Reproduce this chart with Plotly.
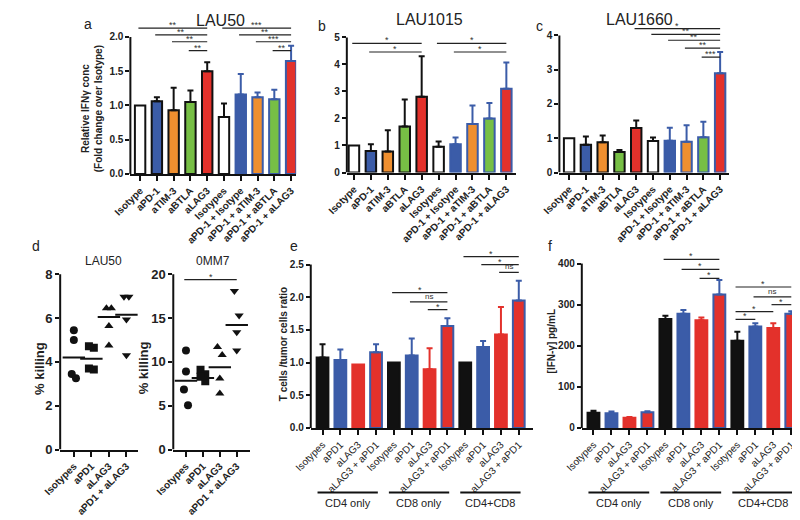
import plotly.graph_objects as go

W, H = 800, 520
FONT = "Liberation Sans, Arial, sans-serif"
BLUE = "#3b5ca8"; RED = "#e3312b"; ORANGE = "#ef8f2f"; GREEN = "#77bf45"
BLACK = "#111111"; WHITE = "#ffffff"

# ---------------- data ----------------
abc_labels = ["Isotype", "aPD-1", "aTIM-3", "aBTLA", "aLAG3", "Isotypes",
              "aPD-1 + Isotype", "aPD-1 + aTIM-3", "aPD-1 + aBTLA", "aPD-1 + aLAG3"]
a_mean = [1.0, 1.06, 0.93, 1.05, 1.5, 0.83, 1.16, 1.12, 1.09, 1.65]
a_err = [0, 0.06, 0.33, 0.17, 0.13, 0.2, 0.3, 0.07, 0.14, 0.22]
b_mean = [1.0, 0.8, 0.78, 1.7, 2.8, 0.95, 1.05, 1.8, 2.0, 3.1]
b_err = [0, 0.25, 0.78, 1.0, 1.5, 0.2, 0.25, 0.68, 0.57, 0.97]
c_mean = [1.0, 0.81, 0.88, 0.6, 1.3, 0.92, 0.93, 0.9, 1.03, 2.9]
c_err = [0, 0.24, 0.2, 0.06, 0.22, 0.1, 0.38, 0.48, 0.45, 0.62]

# significance: (from index, to index, level, label)
a_sig = [(0, 4, 2.13, "**"), (1, 4, 2.03, "**"), (2, 4, 1.93, "**"), (3, 4, 1.80, "**"),
         (5, 9, 2.13, "***"), (6, 9, 2.03, "**"), (7, 9, 1.93, "***"), (8, 9, 1.80, "**")]
b_sig = [(0, 4, 4.78, "*"), (1, 4, 4.46, "*"), (5, 9, 4.78, "*"), (6, 9, 4.46, "*")]
c_sig = [(4, 9, 4.2, "*"), (5, 9, 4.03, "**"), (6, 9, 3.86, "**"), (7, 9, 3.63, "**"),
         (8, 9, 3.37, "***")]

d_labels = ["Isotypes", "aPD1", "aLAG3", "aPD1 + aLAG3"]
d1_values = [[5.45, 5.0, 3.45, 3.25], [4.72, 4.65, 3.7, 3.65],
             [6.45, 6.45, 5.64, 4.75], [6.98, 6.98, 5.94, 4.3]]
d1_means = [4.2, 4.15, 6.05, 6.15]
d2_values = [[11.3, 8.9, 6.85, 5.05], [9.1, 8.6, 8.3, 7.8],
             [11.7, 10.8, 8.1, 6.4], [18.1, 15.3, 13.4, 11.3]]
d2_means = [7.85, 8.15, 9.4, 14.2]
d2_sig = [(0, 3, 19.4, "*")]

ef_labels = ["Isotypes", "aPD1", "aLAG3", "aLAG3 + aPD1"] * 3
groups = ["CD4 only", "CD8 only", "CD4+CD8"]
e_mean = [1.08, 1.04, 0.97, 1.16, 1.0, 1.11, 0.9, 1.56, 1.0, 1.24, 1.43, 1.95]
e_err = [0.2, 0.16, 0, 0.12, 0, 0.26, 0.32, 0.12, 0, 0.09, 0.42, 0.3]
e_sig = [(4, 7, 2.07, "*"), (5, 7, 1.93, "ns"), (6, 7, 1.81, "*"),
         (8, 11, 2.62, "*"), (9, 11, 2.5, "*"), (10, 11, 2.38, "ns")]
f_mean = [37, 36, 25, 38, 265, 278, 262, 325, 212, 247, 243, 278]
f_err = [5, 4, 2, 3, 8, 9, 7, 35, 22, 8, 12, 6]
f_sig = [(4, 7, 410, "*"), (5, 7, 386, "*"), (6, 7, 364, "*"),
         (8, 11, 343, "*"), (9, 11, 319, "ns"), (10, 11, 300, "*"),
         (8, 10, 283, "*"), (8, 9, 264, "*")]

# ---------------- styles ----------------
abc_fill = [WHITE, BLUE, ORANGE, GREEN, RED, WHITE, BLUE, ORANGE, GREEN, RED]
abc_line = [BLACK] * 6 + [BLUE] * 4
ef_fill = [BLACK, BLUE, RED, RED] * 3
ef_line = [BLACK, BLUE, RED, BLUE] * 3
d_symbols = ["circle", "square", "triangle-up", "triangle-down"]
d_jitter = [[0, 0, -0.12, 0.12], [-0.14, 0.14, -0.14, 0.14],
            [-0.14, 0.14, 0, 0], [-0.14, 0.14, 0, 0]]

fig = go.Figure()
layout = dict(width=W, height=H, margin=dict(l=0, r=0, t=0, b=0),
              paper_bgcolor="white", plot_bgcolor="white", barmode="overlay",
              showlegend=False, font=dict(family=FONT, color="#222"))
shapes, annos = [], []

# panel geometry: (x_px0, x_px1, xrange, zero_px, px_per_unit, ytop, yticks, fmt)
panels = {
    1: (105, 275, [-0.58, 9.3], 166.5, 70, 2.25, [0, 0.5, 1.0, 1.5, 2.0], ".1f"),
    2: (327, 500, [-0.42, 9.54], 165, 27.6, 5.4, [0, 1, 2, 3, 4, 5], "d"),
    3: (545, 719, [-0.58, 9.53], 165, 35, 4.5, [0, 1, 2, 3, 4], "d"),
    4: (33, 113, [-0.78, 3.67], 448, 22.375, 8.2, [0, 2, 4, 6, 8], "d"),
    5: (149, 228, [-0.75, 3.8], 448, 8.95, 20.5, [0, 5, 10, 15, 20], "d"),
    6: (290, 518, [-0.66, 11.8], 426, 66.8, 2.8, [0, 0.5, 1.0, 1.5, 2.0, 2.5], ".1f"),
    7: (568, 793, [-0.65, 11.55], 426, 0.42, 430, [0, 100, 200, 300, 400], "d"),
}
xlabels = {1: abc_labels, 2: abc_labels, 3: abc_labels, 4: d_labels, 5: d_labels,
           6: ef_labels, 7: ef_labels}


def ax(n, kind):
    return kind if n == 1 else f"{kind}{n}"


for n, (x0, x1, xr, z, ppu, ytop, yt, fmt) in panels.items():
    big = n in (4, 5)
    bold_x = n <= 5
    layout[ax(n, "xaxis")] = dict(
        domain=[x0 / W, x1 / W], range=xr, anchor=ax(n, "y"), showgrid=False,
        zeroline=False, showline=True, linecolor=BLACK, linewidth=2,
        ticks="outside", ticklen=5, tickwidth=1.6, tickcolor=BLACK,
        tickmode="array", tickvals=list(range(len(xlabels[n]))), ticktext=xlabels[n],
        tickangle=-45,
        tickfont=dict(size=10, family=FONT, color="#222",
                      weight="bold" if bold_x else "normal"))
    layout[ax(n, "yaxis")] = dict(
        domain=[1 - z / H, 1 - (z - ytop * ppu) / H], range=[0, ytop],
        anchor=ax(n, "x"), showgrid=False, zeroline=False, showline=False,
        ticks="outside", ticklen=4, tickwidth=2, tickcolor=BLACK,
        tickmode="array", tickvals=yt,
        ticktext=[format(v, fmt) if fmt != "d" else str(int(v)) for v in yt],
        tickfont=dict(size=13 if big else 10, family=FONT, color="#222", weight="bold"))
    shapes.append(dict(type="line", xref=ax(n, "x") + " domain", yref=ax(n, "y"),
                       x0=0, x1=0, y0=0, y1=yt[-1],
                       line=dict(color=BLACK, width=2)))


def bars(n, means, errs, fills, lines, width):
    for i, (m, e) in enumerate(zip(means, errs)):
        fig.add_trace(go.Bar(
            x=[i], y=[m], width=width, xaxis=ax(n, "x"), yaxis=ax(n, "y"),
            marker=dict(color=fills[i], line=dict(color=lines[i], width=2)),
            error_y=dict(type="data", array=[e], arrayminus=[0], symmetric=False,
                         visible=e > 0, color=lines[i], thickness=2, width=3),
            hoverinfo="skip"))


def sig(n, items, fsize=9):
    for s, e, lvl, lab in items:
        fig.add_trace(go.Scatter(x=[s - 0.1, e], y=[lvl, lvl], mode="lines",
                                 xaxis=ax(n, "x"), yaxis=ax(n, "y"),
                                 line=dict(color="#222", width=1.2), hoverinfo="skip"))
        annos.append(dict(x=(s - 0.1 + e) / 2, y=lvl, xref=ax(n, "x"), yref=ax(n, "y"),
                          text=lab, showarrow=False, yanchor="bottom",
                          yshift=-4 if "*" in lab else -1,
                          font=dict(size=fsize if "*" in lab else 8, color="#333")))


bars(1, a_mean, a_err, abc_fill, abc_line, 0.62)
bars(2, b_mean, b_err, abc_fill, abc_line, 0.62)
bars(3, c_mean, c_err, abc_fill, abc_line, 0.62)
bars(6, e_mean, e_err, ef_fill, ef_line, 0.66)
bars(7, f_mean, f_err, ef_fill, ef_line, 0.66)
sig(1, a_sig); sig(2, b_sig); sig(3, c_sig); sig(5, d2_sig)
sig(6, e_sig); sig(7, f_sig)

for n, vals, means in ((4, d1_values, d1_means), (5, d2_values, d2_means)):
    for i, grp in enumerate(vals):
        fig.add_trace(go.Scatter(
            x=[i + j for j in d_jitter[i]], y=grp, mode="markers",
            xaxis=ax(n, "x"), yaxis=ax(n, "y"),
            marker=dict(symbol=d_symbols[i], size=8, color=BLACK), hoverinfo="skip"))
    fig.add_trace(go.Scatter(
        x=list(range(len(means))), y=means, mode="markers",
        xaxis=ax(n, "x"), yaxis=ax(n, "y"),
        marker=dict(symbol="line-ew", size=16, line=dict(color=BLACK, width=2)),
        hoverinfo="skip"))

# group brackets under e and f
for n in (6, 7):
    for g, name in enumerate(groups):
        shapes.append(dict(type="line", xref=ax(n, "x"), yref="paper",
                           x0=4 * g - 0.28, x1=4 * g + 3.1,
                           y0=1 - 492 / H, y1=1 - 492 / H,
                           line=dict(color=BLACK, width=2)))
        annos.append(dict(x=4 * g + 1.41, y=1 - 503 / H, xref=ax(n, "x"), yref="paper",
                          text=name, showarrow=False, yanchor="middle",
                          font=dict(size=11, color="#222")))


def text(x, y, t, size, angle=0, bold=False):
    annos.append(dict(x=x / W, y=1 - y / H, xref="paper", yref="paper", text=t,
                      showarrow=False, textangle=angle, xanchor="center",
                      yanchor="middle",
                      font=dict(size=size, color="#222", family=FONT,
                                weight="bold" if bold else "normal")))


text(62, 13, "a", 14); text(302, 15, "b", 14); text(525, 15, "c", 14)
text(8, 240, "d", 14); text(273, 240, "e", 14); text(535, 240, "f", 14)
text(197, 10, "LAU50", 16); text(412, 9, "LAU1015", 16); text(627, 9, "LAU1660", 16)
text(77, 255, "LAU50", 12); text(190, 255, "0MM7", 12)
text(66, 100, "Relative IFNγ conc<br>(Fold change over Isotype)", 10, -90, True)
text(12, 365, "% killing", 13, -90, True)
text(118, 365, "% killing", 13, -90, True)
text(262, 340, "T cells /tumor cells ratio", 10, -90, True)
text(537, 338, "[IFN-γ] pg/mL", 10, -90, True)

layout["shapes"] = shapes
layout["annotations"] = annos
fig.update_layout(**layout)
fig.write_html("out.html")
